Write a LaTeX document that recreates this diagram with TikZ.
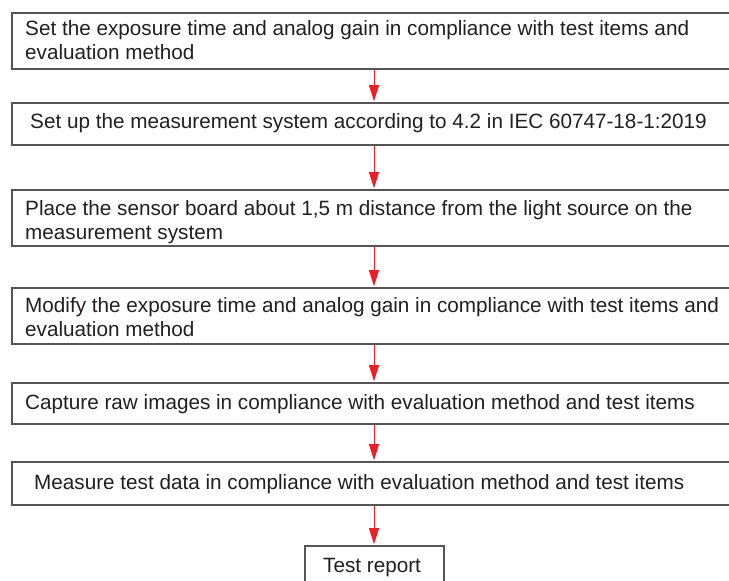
\documentclass[tikz,border=0pt]{standalone}
\usepackage{fontspec}
\setmainfont{Liberation Sans}
\usetikzlibrary{arrows.meta}
\definecolor{boxgray}{HTML}{555555}
\definecolor{txt}{HTML}{231F20}
\definecolor{arrred}{HTML}{E8202A}
\begin{document}
\begin{tikzpicture}[x=1pt,y=-1pt,
  stepbox/.style={draw=boxgray, line width=1.6pt, fill=none, rectangle, inner sep=0pt, anchor=north west},
  lbl/.style={anchor=base west, inner sep=0pt, text=txt, font=\fontsize{20.7}{24.5}\selectfont, align=left},
  flow/.style={draw=arrred, line width=0.9pt, -{Triangle[length=16pt,width=10pt]}, shorten >=0.8pt}
]
\useasboundingbox (0,0) rectangle (729,581);
\node[stepbox, minimum width=726pt, minimum height=56pt] (b1) at (11,12) {};
\node[stepbox, minimum width=726pt, minimum height=42pt] (b2) at (11,102) {};
\node[stepbox, minimum width=726pt, minimum height=56pt] (b3) at (11,189) {};
\node[stepbox, minimum width=726pt, minimum height=56pt] (b4) at (11,287) {};
\node[stepbox, minimum width=726pt, minimum height=41pt] (b5) at (11,382) {};
\node[stepbox, minimum width=726pt, minimum height=43pt] (b6) at (11,461) {};
\node[stepbox, minimum width=139pt, minimum height=50pt] (b7) at (304,545) {};

\node[lbl] (t1) at (25,59.5) {Set the exposure time and analog gain in compliance with test items and\\evaluation method};
\node[lbl] (t2) at (30,128) {Set up the measurement system according to 4.2 in IEC 60747-18-1:2019};
\node[lbl] (t3) at (25,239.5) {Place the sensor board about 1,5 m distance from the light source on the\\measurement system};
\node[lbl] (t4) at (25,336.5) {Modify the exposure time and analog gain in compliance with test items and\\evaluation method};
\node[lbl] (t5) at (25,409) {Capture raw images in compliance with evaluation method and test items};
\node[lbl] (t6) at (34,489) {Measure test data in compliance with evaluation method and test items};
\node[lbl] (t7) at (323,572) {Test report};

\coordinate (ax) at (374,0);
\draw[flow] (b1.south -| ax) -- (b2.north -| ax);
\draw[flow] (b2.south -| ax) -- (b3.north -| ax);
\draw[flow] (b3.south -| ax) -- (b4.north -| ax);
\draw[flow] (b4.south -| ax) -- (b5.north -| ax);
\draw[flow] (b5.south -| ax) -- (b6.north -| ax);
\draw[flow] (b6.south -| ax) -- (b7.north -| ax);
\end{tikzpicture}
\end{document}
